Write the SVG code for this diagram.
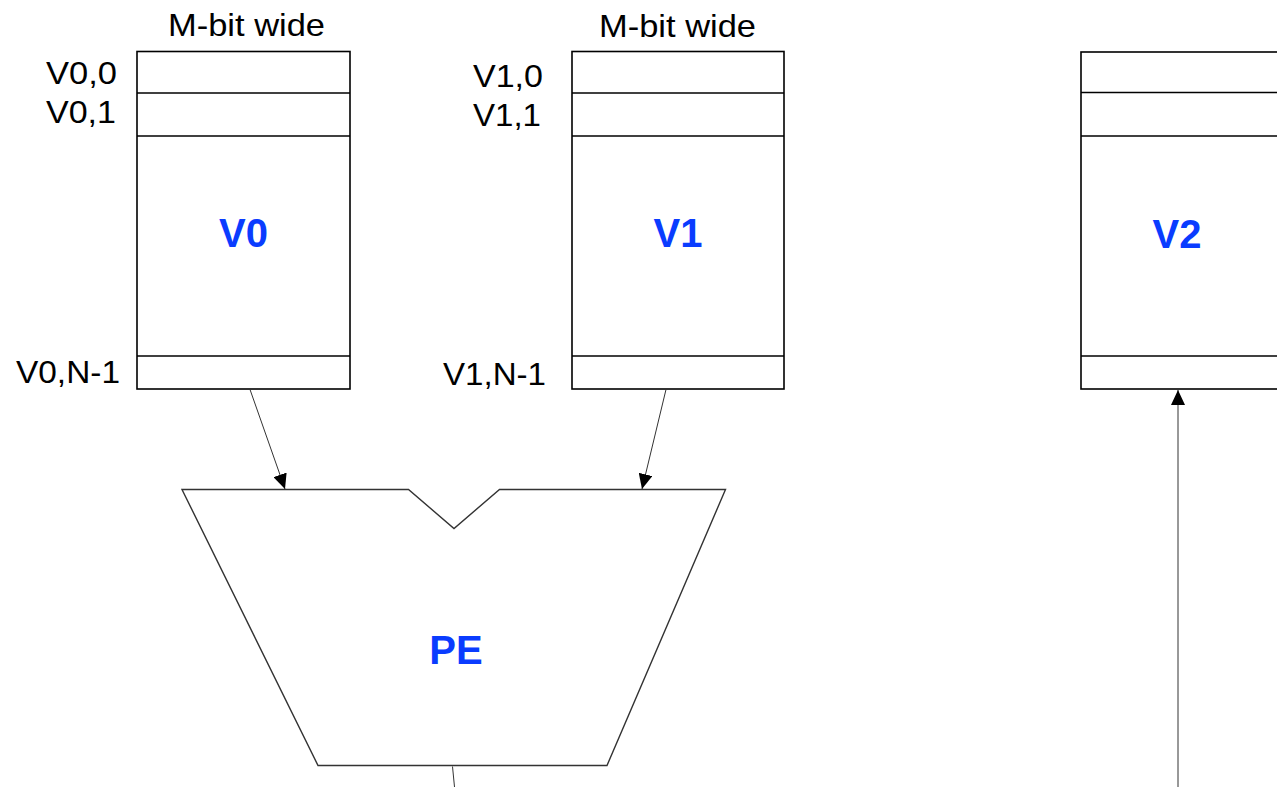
<svg xmlns="http://www.w3.org/2000/svg" width="1277" height="787" viewBox="0 0 1277 787">
<style>
.box{fill:#fff;stroke:#000;stroke-width:1.6}
.div{stroke:#000;stroke-width:1.6}
.lbl{font-family:"Liberation Sans",Arial,sans-serif;font-size:32px;fill:#000}
.big{font-family:"Liberation Sans",Arial,sans-serif;font-size:40px;font-weight:bold;fill:#0a3cff;text-anchor:middle}
.pe{fill:#fff;stroke:#333;stroke-width:1.4}
.con{stroke:#333;stroke-width:1;fill:none}
</style>
<defs>
<marker id="ah" markerWidth="15" markerHeight="14" refX="15" refY="7" orient="auto" markerUnits="userSpaceOnUse">
<path d="M0,0 L15,7 L0,14 Z" fill="#000"/>
</marker>
</defs>
<rect width="1277" height="787" fill="#fff"/>
<g id="V0">
<rect class="box" x="137" y="51.5" width="213" height="337.5"/>
<line class="div" x1="137" y1="93" x2="350" y2="93"/>
<line class="div" x1="137" y1="136" x2="350" y2="136"/>
<line class="div" x1="137" y1="356" x2="350" y2="356"/>
<text class="big" x="243.5" y="247">V0</text>
<text class="lbl" x="168" y="36" textLength="157" lengthAdjust="spacingAndGlyphs">M-bit wide</text>
<text class="lbl" x="46" y="84" textLength="71" lengthAdjust="spacingAndGlyphs">V0,0</text>
<text class="lbl" x="46" y="123" textLength="70" lengthAdjust="spacingAndGlyphs">V0,1</text>
<text class="lbl" x="16" y="383" textLength="104" lengthAdjust="spacingAndGlyphs">V0,N-1</text>
</g>
<g id="V1">
<rect class="box" x="572" y="51.5" width="212" height="337.5"/>
<line class="div" x1="572" y1="93" x2="784" y2="93"/>
<line class="div" x1="572" y1="136" x2="784" y2="136"/>
<line class="div" x1="572" y1="356" x2="784" y2="356"/>
<text class="big" x="678" y="247">V1</text>
<text class="lbl" x="599" y="37" textLength="157" lengthAdjust="spacingAndGlyphs">M-bit wide</text>
<text class="lbl" x="473" y="87" textLength="70" lengthAdjust="spacingAndGlyphs">V1,0</text>
<text class="lbl" x="473" y="126" textLength="68" lengthAdjust="spacingAndGlyphs">V1,1</text>
<text class="lbl" x="443" y="385" textLength="103" lengthAdjust="spacingAndGlyphs">V1,N-1</text>
</g>
<g id="V2">
<rect class="box" x="1081" y="52" width="220" height="337"/>
<line class="div" x1="1081" y1="92.5" x2="1301" y2="92.5"/>
<line class="div" x1="1081" y1="136" x2="1301" y2="136"/>
<line class="div" x1="1081" y1="356" x2="1301" y2="356"/>
<text class="big" x="1177" y="248">V2</text>
</g>
<g id="PE">
<polygon class="pe" points="182,489.5 408.5,489.5 454,528.5 499.5,489.5 725.5,489.5 607,765.5 318,765.5"/>
<text class="big" x="456" y="664">PE</text>
</g>
<g id="connectors">
<line class="con" x1="250" y1="389.5" x2="285" y2="489" marker-end="url(#ah)"/>
<line class="con" x1="666" y1="389.5" x2="642" y2="489" marker-end="url(#ah)"/>
<line class="con" x1="1178" y1="787" x2="1178" y2="390" marker-end="url(#ah)"/>
<line class="con" x1="452.5" y1="766.5" x2="454.5" y2="787"/>
</g>
</svg>
